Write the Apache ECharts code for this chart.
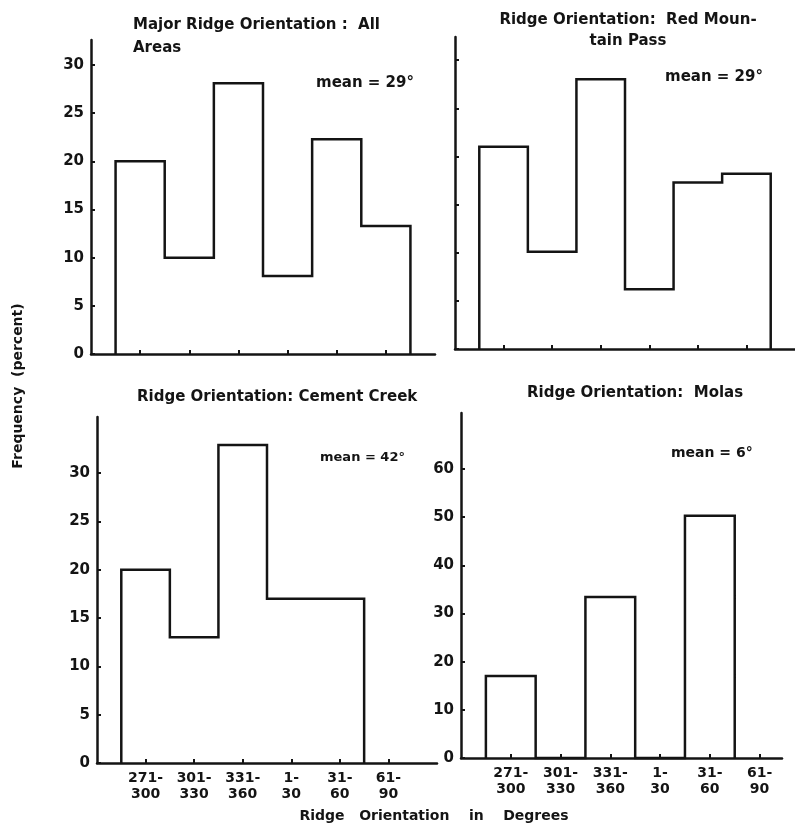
<!DOCTYPE html>
<html>
<head>
<meta charset="utf-8">
<script src="https://cdn.jsdelivr.net/npm/echarts@6/dist/echarts.min.js"></script>
<style>
  html, body { margin: 0; padding: 0; background: #ffffff; }
  #chart { width: 795px; height: 835px; }
</style>
</head>
<body>
<div id="chart"></div>
<script>
// Orientation classes in degrees (shared by all four histograms)
const orientationBins = ['271-\n300', '301-\n330', '331-\n360', '1-\n30', '31-\n60', '61-\n90'];

// Frequency (percent) of ridges in each orientation class
const allAreas        = [20, 10, 28.1, 8.1, 22.3, 13.3];
const redMountainPass = [21, 10.1, 28, 6.2, 17.3, 18.2];
const cementCreek     = [20, 13, 32.9, 17, 17, 0];
const molas           = [17, 0, 33.4, 0, 50.3, 0];

// Y tick values
const yTicksPercent = [0, 5, 10, 15, 20, 25, 30];
const yTicksMolas   = [0, 10, 20, 30, 40, 50, 60];

// Panel titles and mean orientations
const panelTitles = [
  'Major Ridge Orientation :  All\nAreas',
  'Ridge Orientation:  Red Moun-\ntain Pass',
  'Ridge Orientation: Cement Creek',
  'Ridge Orientation:  Molas'
];
const meanLabels = ['mean = 29°', 'mean = 29°', 'mean = 42°', 'mean = 6°'];

const INK = '#141414';
const FONT = '"DejaVu Sans", "Liberation Sans", sans-serif';

// Closed step outline of a histogram: bin i spans [i - 0.5, i + 0.5]
function outline(values) {
  let last = values.length - 1;
  while (last > 0 && values[last] === 0) last--;
  const pts = [[-0.5, 0]];
  for (let i = 0; i <= last; i++) {
    pts.push([i - 0.5, values[i]]);
    pts.push([i + 0.5, values[i]]);
  }
  pts.push([last + 0.5, 0]);
  return pts;
}

const panels = [
  { grid: { left: 91,  top: 40,  width: 344, height: 314 }, xMax: 6,    yMax: 32.6, ticks: yTicksPercent, data: allAreas,        yLabels: true,  xLabels: false },
  { grid: { left: 455, top: 37,  width: 340, height: 312 }, xMax: 6,    yMax: 32.4, ticks: yTicksPercent, data: redMountainPass, yLabels: false, xLabels: false },
  { grid: { left: 97,  top: 417, width: 340, height: 346 }, xMax: 6,    yMax: 35.8, ticks: yTicksPercent, data: cementCreek,     yLabels: true,  xLabels: true },
  { grid: { left: 461, top: 413, width: 321, height: 345 }, xMax: 5.45, yMax: 71.6, ticks: yTicksMolas,   data: molas,           yLabels: true,  xLabels: true }
];

const binPositions = orientationBins.map((_, i) => i);

function label(x, y, text, size, extra) {
  return {
    type: 'text', x: x, y: y,
    style: Object.assign({ text: text, fill: INK, font: 'bold ' + size + 'px ' + FONT, align: 'left', verticalAlign: 'middle' }, extra || {})
  };
}

const option = {
  backgroundColor: '#ffffff',
  animation: false,
  grid: panels.map(p => Object.assign({ outerBoundsMode: 'none', containLabel: false }, p.grid)),
  xAxis: panels.map((p, k) => ({
    type: 'value',
    gridIndex: k,
    min: -1,
    max: p.xMax,
    splitLine: { show: false },
    axisLine: { show: true, onZero: false, lineStyle: { color: INK, width: 2.5 } },
    axisTick: { show: true, inside: true, length: 4, customValues: binPositions, lineStyle: { color: INK, width: 2 } },
    axisLabel: {
      show: p.xLabels,
      customValues: binPositions,
      formatter: v => orientationBins[Math.round(v)] || '',
      color: INK, fontFamily: FONT, fontWeight: 'bold', fontSize: 14, lineHeight: 16, margin: 7
    }
  })),
  yAxis: panels.map((p, k) => ({
    type: 'value',
    gridIndex: k,
    min: 0,
    max: p.yMax,
    splitLine: { show: false },
    axisLine: { show: true, onZero: false, lineStyle: { color: INK, width: 2.5 } },
    axisTick: { show: true, inside: true, length: 4, customValues: p.ticks, lineStyle: { color: INK, width: 2 } },
    axisLabel: {
      show: p.yLabels,
      customValues: p.ticks,
      color: INK, fontFamily: FONT, fontWeight: 'bold', fontSize: 15, margin: 7
    }
  })),
  series: panels.map((p, k) => ({
    type: 'line',
    xAxisIndex: k,
    yAxisIndex: k,
    data: outline(p.data),
    symbol: 'none',
    clip: false,
    lineStyle: { color: INK, width: 2.5, join: 'miter' },
    z: 3
  })),
  graphic: [
    label(133, 36.5, panelTitles[0], 15, { lineHeight: 23 }),
    label(628, 31, panelTitles[1], 15, { align: 'center', lineHeight: 21 }),
    label(137, 397, panelTitles[2], 15),
    label(527, 393, panelTitles[3], 15),
    label(316, 83, meanLabels[0], 15),
    label(665, 77, meanLabels[1], 15),
    label(320, 458, meanLabels[2], 13),
    label(671, 453, meanLabels[3], 14),
    { type: 'text', x: 18, y: 386, rotation: Math.PI / 2,
      style: { text: 'Frequency  (percent)', fill: INK, font: 'bold 14px ' + FONT, align: 'center', verticalAlign: 'middle' } },
    label(434, 816, 'Ridge   Orientation    in    Degrees', 14, { align: 'center' })
  ]
};

const chart = echarts.init(document.getElementById('chart'), null, { renderer: 'canvas' });
chart.setOption(option);
</script>
</body>
</html>
